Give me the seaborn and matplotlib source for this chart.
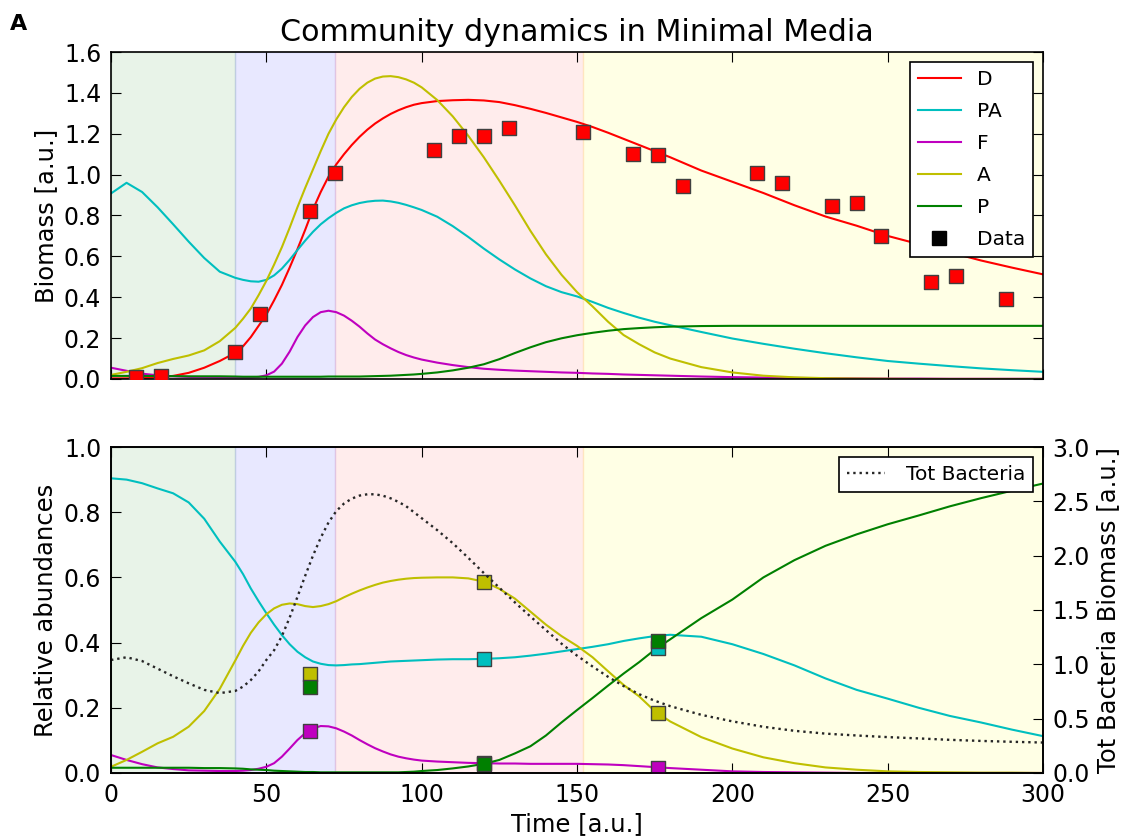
import numpy as np
import pandas as pd
import seaborn as sns
import matplotlib.pyplot as plt
from matplotlib.lines import Line2D

# time grid of the simulated curves (denser where the curves bend most)
time = [0, 5, 10, 15, 20, 25, 30, 35, 40,
        42.5, 45, 47.5, 50, 52.5, 55, 57.5, 60, 62.5, 65, 67.5, 70, 72.5, 75, 77.5, 80,
        82.5, 85, 87.5, 90, 92.5, 95, 97.5, 100,
        105, 110, 115, 120, 125, 130, 135, 140, 145, 150, 155, 160, 165, 170, 175, 180,
        190, 200, 210, 220, 230, 240, 250, 260, 270, 280, 290, 300]

# top panel: biomass
bio_D = [0.003, 0.003, 0.005, 0.008, 0.015, 0.03, 0.055, 0.088, 0.128,
         0.16, 0.205, 0.26, 0.315, 0.385, 0.46, 0.545, 0.635, 0.73, 0.83, 0.915, 0.99, 1.05,
         1.10, 1.145, 1.185, 1.22, 1.25, 1.275, 1.297, 1.315, 1.33, 1.342, 1.35,
         1.36, 1.364, 1.366, 1.363, 1.355, 1.34, 1.322, 1.302, 1.28, 1.258, 1.233, 1.205,
         1.175, 1.145, 1.115, 1.085,
         1.02, 0.965, 0.91, 0.85, 0.795, 0.75, 0.70, 0.66, 0.62, 0.58, 0.545, 0.512]
bio_PA = [0.908, 0.96, 0.915, 0.84, 0.757, 0.672, 0.592, 0.525, 0.495,
          0.485, 0.478, 0.476, 0.485, 0.507, 0.54, 0.583, 0.631, 0.677, 0.72, 0.757, 0.787,
          0.813, 0.835, 0.85, 0.861, 0.868, 0.872, 0.873, 0.869, 0.862, 0.852, 0.84, 0.827,
          0.794, 0.748, 0.695, 0.638, 0.585, 0.536, 0.492, 0.454, 0.425, 0.404, 0.377, 0.348,
          0.323, 0.30, 0.28, 0.263,
          0.23, 0.198, 0.172, 0.148, 0.126, 0.106, 0.088, 0.075, 0.063, 0.052, 0.043, 0.035]
bio_F = [0.055, 0.04, 0.026, 0.018, 0.013, 0.01, 0.009, 0.008, 0.008,
         0.008, 0.008, 0.01, 0.018, 0.036, 0.075, 0.134, 0.205, 0.262, 0.303, 0.327, 0.334,
         0.327, 0.31, 0.285, 0.256, 0.223, 0.193, 0.17, 0.15, 0.132, 0.117, 0.105, 0.095,
         0.08, 0.068, 0.058, 0.05, 0.045, 0.041, 0.038, 0.035, 0.032, 0.03, 0.027, 0.025,
         0.022, 0.02, 0.018, 0.016,
         0.012, 0.009, 0.007, 0.005, 0.004, 0.003, 0.002, 0.002, 0.001, 0.001, 0.001, 0.001]
bio_A = [0.02, 0.035, 0.053, 0.078, 0.098, 0.115, 0.14, 0.185, 0.25,
         0.295, 0.345, 0.41, 0.48, 0.56, 0.645, 0.74, 0.84, 0.935, 1.025, 1.115, 1.2, 1.27,
         1.33, 1.38, 1.42, 1.45, 1.47, 1.48, 1.482, 1.477, 1.466, 1.45, 1.427,
         1.365, 1.285, 1.19, 1.085, 0.97, 0.85, 0.725, 0.61, 0.51, 0.425, 0.355, 0.28,
         0.215, 0.17, 0.13, 0.1,
         0.058, 0.032, 0.016, 0.008, 0.004, 0.002, 0.001, 0.0, 0.0, 0.0, 0.0, 0.0]
bio_P = [0.015, 0.015, 0.015, 0.014, 0.014, 0.013, 0.013, 0.013, 0.012,
         0.011, 0.011, 0.011, 0.011, 0.011, 0.011, 0.011, 0.011, 0.011, 0.011, 0.011, 0.012,
         0.012, 0.012, 0.012, 0.012, 0.013, 0.014, 0.015, 0.016, 0.018, 0.02, 0.022, 0.025,
         0.032, 0.042, 0.055, 0.072, 0.097, 0.127, 0.155, 0.18, 0.199, 0.214, 0.226, 0.236,
         0.244, 0.249, 0.253, 0.256,
         0.259, 0.26, 0.26, 0.26, 0.26, 0.26, 0.26, 0.26, 0.26, 0.26, 0.26, 0.26]

# measured D biomass
data_t = [8, 16, 40, 48, 64, 72, 104, 112, 120, 128, 152, 168, 176, 184, 208, 216, 232,
          240, 248, 264, 272, 288]
data_D = [0.01, 0.015, 0.13, 0.32, 0.82, 1.01, 1.12, 1.19, 1.19, 1.23, 1.21, 1.10, 1.095,
          0.946, 1.01, 0.96, 0.848, 0.863, 0.70, 0.473, 0.502, 0.39]

# bottom panel: relative abundances
rel_PA = [0.904, 0.90, 0.889, 0.873, 0.858, 0.83, 0.78, 0.71, 0.648,
          0.61, 0.566, 0.527, 0.49, 0.455, 0.423, 0.395, 0.372, 0.355, 0.342, 0.335, 0.331,
          0.33, 0.331, 0.333, 0.334, 0.336, 0.338, 0.34, 0.342, 0.343, 0.344, 0.345, 0.346,
          0.348, 0.349, 0.349, 0.35, 0.352, 0.355, 0.36, 0.366, 0.373, 0.38, 0.387, 0.395,
          0.405, 0.413, 0.42, 0.424,
          0.418, 0.395, 0.365, 0.33, 0.29, 0.255, 0.228, 0.2, 0.175, 0.155, 0.133, 0.113]
rel_F = [0.055, 0.04, 0.027, 0.017, 0.012, 0.008, 0.007, 0.006, 0.006,
         0.007, 0.009, 0.013, 0.019, 0.03, 0.05, 0.075, 0.101, 0.122, 0.137, 0.144, 0.143,
         0.137, 0.127, 0.115, 0.101, 0.088, 0.076, 0.066, 0.057, 0.05, 0.045, 0.041, 0.038,
         0.035, 0.033, 0.031, 0.03, 0.029, 0.029, 0.028, 0.028, 0.028, 0.028, 0.027, 0.026,
         0.024, 0.021, 0.018, 0.015,
         0.01, 0.005, 0.003, 0.002, 0.001, 0.0, 0.0, 0.0, 0.0, 0.0, 0.0, 0.0]
rel_A = [0.019, 0.04, 0.065, 0.091, 0.111, 0.142, 0.19, 0.258, 0.345,
         0.39, 0.43, 0.462, 0.487, 0.505, 0.516, 0.52, 0.518, 0.512, 0.509, 0.512, 0.518,
         0.527, 0.539, 0.55, 0.56, 0.569, 0.577, 0.584, 0.589, 0.593, 0.596, 0.598, 0.599,
         0.60, 0.60, 0.597, 0.587, 0.565, 0.535, 0.495, 0.455, 0.42, 0.39, 0.355, 0.312,
         0.27, 0.235, 0.19, 0.158,
         0.11, 0.075, 0.048, 0.03, 0.017, 0.01, 0.005, 0.003, 0.002, 0.001, 0.001, 0.0]
rel_P = [0.016, 0.016, 0.016, 0.016, 0.016, 0.016, 0.015, 0.015, 0.014,
         0.013, 0.011, 0.01, 0.009, 0.007, 0.006, 0.005, 0.004, 0.003, 0.003, 0.002, 0.002,
         0.002, 0.002, 0.002, 0.002, 0.002, 0.002, 0.002, 0.002, 0.002, 0.003, 0.004, 0.006,
         0.009, 0.014, 0.02, 0.028, 0.04, 0.06, 0.082, 0.115, 0.155, 0.193, 0.23, 0.268,
         0.305, 0.34, 0.378, 0.41,
         0.475, 0.532, 0.60, 0.653, 0.697, 0.732, 0.763, 0.79, 0.818, 0.843, 0.866, 0.888]
tot_bact = [1.04, 1.065, 1.03, 0.96, 0.89, 0.825, 0.765, 0.735, 0.755,
            0.795, 0.855, 0.935, 1.04, 1.13, 1.26, 1.43, 1.62, 1.815, 2.0, 2.165, 2.305,
            2.41, 2.48, 2.525, 2.553, 2.565, 2.565, 2.552, 2.528, 2.495, 2.455, 2.40, 2.345,
            2.235, 2.115, 1.98, 1.84, 1.705, 1.57, 1.44, 1.315, 1.19, 1.08, 0.98, 0.885,
            0.80, 0.725, 0.665, 0.615,
            0.535, 0.475, 0.425, 0.388, 0.362, 0.345, 0.33, 0.318, 0.305, 0.295, 0.287, 0.28]

# measured relative abundances
obs_t = [64, 120, 176]
obs_PA = [np.nan, 0.35, 0.383]
obs_F = [0.129, 0.03, 0.015]
obs_A = [0.303, 0.586, 0.184]
obs_P = [0.264, 0.028, 0.405]

species = ["D", "PA", "F", "A", "P"]
colors = {"D": "r", "PA": "c", "F": "m", "A": "y", "P": "g"}

# background phases
phases = [(0, 40, "g", 0.09), (40, 72, "b", 0.09), (72, 152, "r", 0.075), (152, 300, "yellow", 0.1)]

plt.rcParams.update({
    "font.family": "DejaVu Sans",
    "axes.linewidth": 1.2,
    "xtick.direction": "in",
    "ytick.direction": "in",
    "xtick.major.size": 7,
    "ytick.major.size": 7,
    "xtick.major.pad": 7,
    "ytick.major.pad": 7,
    "xtick.labelsize": 17,
    "ytick.labelsize": 17,
    "axes.labelsize": 17.5,
    "legend.fontsize": 14.5,
})

fig = plt.figure(figsize=(11.26, 8.39), dpi=100)
ax1 = fig.add_axes([0.0986, 0.5483, 0.8277, 0.3897])
ax2 = fig.add_axes([0.0986, 0.0787, 0.8277, 0.3885], sharex=ax1)
ax3 = ax2.twinx()

for ax in (ax1, ax2):
    for x0, x1, c, a in phases:
        ax.axvspan(x0, x1, color=c, alpha=a, lw=1)

# top panel
bio = pd.DataFrame({"time": time, "D": bio_D, "PA": bio_PA, "F": bio_F, "A": bio_A, "P": bio_P})
for sp in species:
    sns.lineplot(data=bio, x="time", y=sp, color=colors[sp], lw=1.5, label=sp, ax=ax1)
sns.scatterplot(x=data_t, y=data_D, marker="s", color="red", edgecolor="0.25", linewidth=1,
                s=110, zorder=5, legend=False, ax=ax1)

handles, labels = ax1.get_legend_handles_labels()
handles.append(Line2D([], [], marker="s", color="k", linestyle="none", markersize=10))
labels.append("Data")
leg = ax1.legend(handles, labels, loc="upper right", fancybox=False, framealpha=1,
                 edgecolor="k", labelspacing=0.64, handlelength=2.1, handletextpad=0.8)
leg.get_frame().set_linewidth(1.2)

ax1.set_xlim(0, 300)
ax1.set_ylim(0, 1.6)
ax1.set_yticks(np.arange(0, 1.61, 0.2))
ax1.set_ylabel("Biomass [a.u.]")
ax1.set_xlabel("")
ax1.set_title("Community dynamics in Minimal Media", fontsize=21.7, pad=8)
ax1.tick_params(top=True, right=True, labelbottom=False)

# bottom panel
rel = pd.DataFrame({"time": time, "PA": rel_PA, "F": rel_F, "A": rel_A, "P": rel_P})
for sp in ["PA", "F", "A", "P"]:
    sns.lineplot(data=rel, x="time", y=sp, color=colors[sp], lw=1.5, ax=ax2)
for sp, vals in [("F", obs_F), ("A", obs_A), ("PA", obs_PA), ("P", obs_P)]:
    sns.scatterplot(x=obs_t, y=vals, marker="s", color=colors[sp], edgecolor="0.25",
                    linewidth=1, s=110, zorder=5, legend=False, ax=ax2)

sns.lineplot(x=time, y=tot_bact, color="0.15", lw=1.7, linestyle=":", label="Tot Bacteria", ax=ax3)
leg2 = ax3.legend(loc="upper right", fancybox=False, framealpha=1, edgecolor="k",
                  handlelength=1.9, handletextpad=1.0)
leg2.get_frame().set_linewidth(1.2)

ax2.set_xlim(0, 300)
ax2.set_ylim(0, 1.0)
ax2.set_yticks(np.arange(0, 1.01, 0.2))
ax2.set_xticks(np.arange(0, 301, 50))
ax2.set_xlabel("Time [a.u.]")
ax2.set_ylabel("Relative abundances")
ax2.tick_params(top=True, right=False)
ax3.set_ylim(0, 3.0)
ax3.set_yticks(np.arange(0, 3.01, 0.5))
ax3.set_ylabel("Tot Bacteria Biomass [a.u.]")
ax3.tick_params(right=True)

fig.text(0.009, 0.9645, "A", fontsize=16, fontweight="bold")

fig.savefig("out.png", dpi=100)
